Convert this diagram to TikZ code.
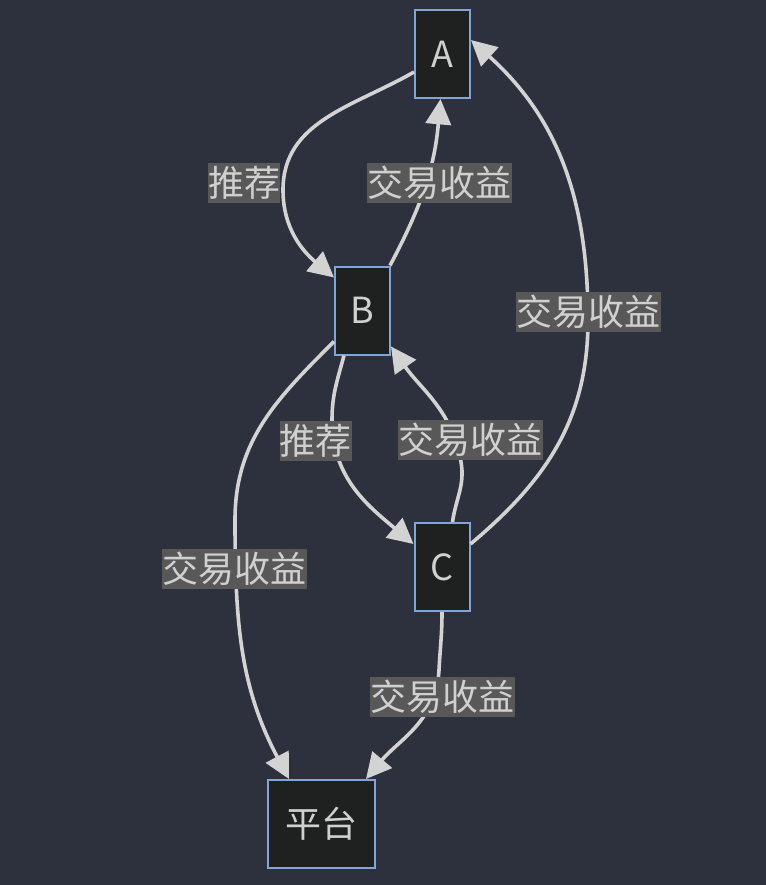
\documentclass[tikz,border=0pt]{standalone}
\usepackage{fontspec}
\setmainfont{Noto Sans CJK SC}
\usetikzlibrary{arrows.meta}
\definecolor{bgc}{HTML}{2D303D}
\definecolor{nodefill}{HTML}{1F2020}
\definecolor{nodeborder}{HTML}{81A6D6}
\definecolor{edgec}{HTML}{D3D3D3}
\definecolor{labfill}{HTML}{585858}
\definecolor{txtc}{HTML}{D0D0D0}
\tikzset{
  box/.style={draw=nodeborder, line width=1.5pt, fill=nodefill, text=txtc,
    inner sep=0pt, minimum height=66pt, font=\fontsize{27}{30}\selectfont},
  lab/.style={fill=labfill, text=txtc, inner sep=0pt, minimum height=30pt,
    font=\fontsize{27}{30}\selectfont},
  edge/.style={draw=edgec, line width=2.7pt,
    -{Triangle[length=19pt,width=19pt]}},
}
\begin{document}
\begin{tikzpicture}[x=0.75pt,y=0.75pt]
\fill[bgc] (0,0) rectangle (766,-885);
\useasboundingbox (0,0) rectangle (766,-885);
% nodes
\node[box, minimum width=41.25pt] (A) at (442.5,-54) {A};
\node[box, minimum width=41.25pt] (B) at (362.5,-310.5) {B};
\node[box, minimum width=41.25pt] (C) at (442,-567) {C};
\node[box, minimum width=80.25pt] (P) at (321.5,-824) {平台};
% anchor coordinates
\coordinate (a1) at ([yshift=-18*0.75pt]A.west);
\coordinate (a2) at ([xshift=-2*0.75pt]A.south);
\coordinate (a3) at ([yshift=-31*0.75pt]A.north east);
\coordinate (b1) at ([yshift=-12*0.75pt]B.north west);
\coordinate (b2) at ([xshift=-1*0.75pt]B.north east);
\coordinate (b3) at ([xshift=10*0.75pt]B.south west);
\coordinate (b4) at ([yshift=9*0.75pt]B.south east);
\coordinate (b5) at ([yshift=14*0.75pt]B.south west);
\coordinate (c1) at ([yshift=-22*0.75pt]C.north west);
\coordinate (c2) at ([xshift=-18*0.75pt]C.north east);
\coordinate (c3) at ([yshift=-22*0.75pt]C.north east);
\coordinate (c4) at (C.south);
\coordinate (p1) at ([xshift=22*0.75pt]P.north west);
\coordinate (p2) at ([xshift=-10*0.75pt]P.north east);
% edges
\draw[edge] (a1) to[out=210,in=90] (283,-190) to[out=-90,in=140] (b1);
\draw[edge] (b2) to[out=62,in=-95] (a2);
\draw[edge] (c3) to[out=40,in=-90] (588,-320) to[out=90,in=-42] (a3);
\draw[edge] (b3) to[out=-105,in=90] (332,-420) to[out=-90,in=140] (c1);
\draw[edge] (c2) to[out=82,in=-80] (461,-462) to[out=100,in=-55] (b4);
\draw[edge] (b5) to[out=-135,in=90] (235,-520) to[out=-90,in=118] (p1);
\draw[edge] (c4) to[out=-90,in=87] (439,-670) to[out=-93,in=50] (p2);
% labels
\node[lab, minimum width=54pt] (l1) at (244,-183) {推荐};
\node[lab, minimum width=108.75pt] (l2) at (439.5,-183) {交易收益};
\node[lab, minimum width=108.75pt] (l3) at (588.5,-312) {交易收益};
\node[lab, minimum width=54pt] (l4) at (315.5,-440.5) {推荐};
\node[lab, minimum width=108.75pt] (l5) at (470.5,-440) {交易收益};
\node[lab, minimum width=108.75pt] (l6) at (234,-569) {交易收益};
\node[lab, minimum width=108.75pt] (l7) at (442.5,-697) {交易收益};
\end{tikzpicture}
\end{document}
